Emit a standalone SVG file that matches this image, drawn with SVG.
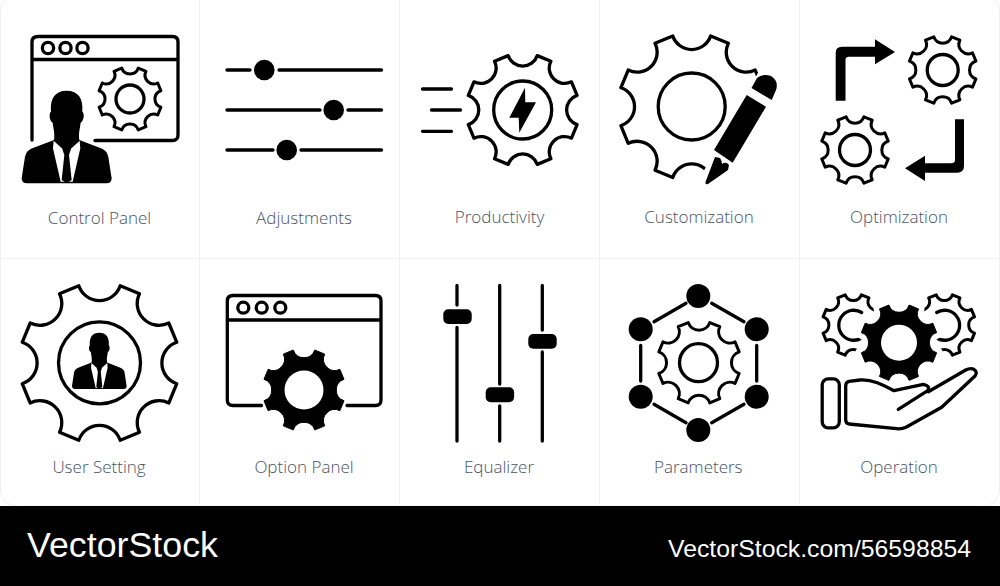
<svg xmlns="http://www.w3.org/2000/svg" xmlns:xlink="http://www.w3.org/1999/xlink" width="1000" height="586" viewBox="0 0 1000 586">
<style>
.s{fill:none;stroke:#000;stroke-width:3.3;stroke-linecap:round;stroke-linejoin:round}
#gear{vector-effect:non-scaling-stroke;stroke-linejoin:round}
.gs{fill:none;stroke:#000}
.gf{fill:#000;stroke:#000;stroke-width:1}
.f{fill:#000}
.w{fill:#fff}
.d{stroke:#efefef;stroke-width:1}
.l{font-family:"Open Sans","Liberation Sans",sans-serif;font-weight:300;font-size:17px;fill:#465266;text-anchor:middle;opacity:.99}
.b{font-family:"Liberation Sans",Arial,sans-serif;fill:#fff;opacity:.99}
</style>
<defs>
<path id="gear" d="M25.88,-96.59L50,-86.6A27.3,27.3 0 0 0 86.6,-50L96.59,-25.88A27.3,27.3 0 0 0 96.59,25.88L86.6,50A27.3,27.3 0 0 0 50,86.6L25.88,96.59A27.3,27.3 0 0 0 -25.88,96.59L-50,86.6A27.3,27.3 0 0 0 -86.6,50L-96.59,25.88A27.3,27.3 0 0 0 -96.59,-25.88L-86.6,-50A27.3,27.3 0 0 0 -50,-86.6L-25.88,-96.59A27.3,27.3 0 0 0 25.88,-96.59Z"/>
<g id="person">
<path class="f" d="M200,272C165,272 150,295 153,335C146,340 148,362 158,368C160,385 165,400 162,420L105,442Q78,450 75,470C72,490 68,515 65,535Q65,550 80,550L320,550Q335,550 335,535C332,515 328,490 325,470Q322,450 295,442L238,420C235,400 240,385 242,368C252,362 254,340 247,335C250,295 235,272 200,272Z"/>
<path class="w" d="M161,422L188,447H212L239,422L241,445L218,545H182L159,445Z"/>
<path class="f" d="M187,447H213L207,465L215,540L200,550L185,540L193,465Z"/>
</g>
</defs>
<rect width="1000" height="586" fill="#fff"/>
<g id="frame">
<rect class="d" x="0.5" y="-5" width="999" height="511" rx="16" fill="#fff"/>
<path class="d" fill="none" d="M199.5,0V506M399.5,0V506M599.5,0V506M799.5,0V506M0,258.5H1000"/>
</g>

<g id="control-panel">
<path class="s" d="M32,140V42Q32,36.500 38,36.500H172.500Q178,36.500 178,42V135Q178,140.500 172.500,140.500H95M32,59.500H178"/>
<circle class="s" cx="48" cy="48" r="5.600"/><circle class="s" cx="65.500" cy="48" r="5.600"/><circle class="s" cx="82.500" cy="48" r="5.600"/>
<use href="#gear" class="gs" stroke-width="3" transform="translate(130 99) scale(.32)"/>
<circle class="s" cx="130" cy="99" r="14"/>
<use href="#person" transform="scale(.3333)"/>
<text class="l" x="99.500" y="223.500">Control Panel</text>
</g>

<g id="adjustments">
<path class="s" d="M227,70H250M279,70H381.500M227,110H320M348,110H381.500M227,150H273M301,150H381.500"/>
<circle class="f" cx="264.300" cy="70" r="10.300"/><circle class="f" cx="333.700" cy="110" r="10.300"/><circle class="f" cx="286.700" cy="150" r="10.300"/>
<text class="l" x="304" y="223.500">Adjustments</text>
</g>

<g id="productivity">
<use href="#gear" class="gs" stroke-width="3.300" transform="translate(522.700 110) scale(.563)"/>
<circle class="s" cx="522.700" cy="110" r="29"/>
<path class="f" d="M525,87.700L509.300,117.700H518.700L519.300,132.700L536,102.300H525.300Z"/>
<path class="s" d="M422.500,89H451.500M431.500,110H460.500M422.500,131.300H451.500"/>
<text class="l" x="499.500" y="223">Productivity</text>
</g>

<g id="customization">
<use href="#gear" class="gs" stroke-width="3.300" transform="translate(691.700 106.700) scale(.733)"/>
<path class="w" d="M759,71L797,60V190H700L704,170.500Z"/>
<circle class="s" cx="691.700" cy="106.500" r="33.500"/>
<path class="f" d="M751.500,88L757,78Q763,73 771,76Q779,81 776,90L771.700,100Z"/>
<path class="f" d="M746.700,95L766,106.700L732.700,162.700L714,150Z"/>
<path class="f" d="M715,157L720,158Q722,161 722,164Q726,161 729,165L728,170L708,184Q705,185 705.500,182Z"/>
<text class="l" x="699" y="223">Customization</text>
</g>

<g id="optimization">
<use href="#gear" class="gs" stroke-width="3" transform="translate(942.700 70) scale(.344)"/>
<circle class="s" cx="942.700" cy="70" r="15.500"/>
<use href="#gear" class="gs" stroke-width="3" transform="translate(855 150) scale(.344)"/>
<circle class="s" cx="855" cy="150" r="15.500"/>
<path class="f" d="M835.700,100.700V53Q835.700,46.700 842,46.700H875V39.300L895,52L875,64.300V56.700H849Q845.500,56.700 845.500,60V100.700Z"/>
<path class="f" d="M964,119.300V166Q964,172.700 957,172.700H925V181L905,168.300L925,155.700V163.300H951Q955,163.300 955,160V119.300Z"/>
<text class="l" x="899" y="223">Optimization</text>
</g>

<g id="user-setting">
<use href="#gear" class="gs" stroke-width="3.300" transform="translate(99.500 363) scale(.8)"/>
<circle class="s" cx="99.500" cy="362.800" r="41"/>
<use href="#person" transform="translate(58.840 277.600) scale(.2024)"/>
<text class="l" x="99" y="473">User Setting</text>
</g>

<g id="option-panel">
<path class="s" d="M261.500,405.500H233Q227.300,405.500 227.300,400V301Q227.300,295.500 233,295.500H375.500Q381,295.500 381,301V400Q381,405.500 375.500,405.500H347M227.300,320H381"/>
<circle class="s" cx="243.300" cy="307.700" r="5.500"/><circle class="s" cx="261.700" cy="307.700" r="5.500"/><circle class="s" cx="280.300" cy="307.700" r="5.500"/>
<use href="#gear" class="gf" transform="translate(304 390) scale(.414)"/>
<circle class="w" cx="304" cy="390" r="19.500"/>
<text class="l" x="304" y="473">Option Panel</text>
</g>

<g id="equalizer">
<path class="s" d="M457,285.500V305M457,327.500V441M499.700,285.500V384M499.700,406V441M542.300,285.500V330M542.300,352V441"/>
<rect class="f" x="443.300" y="309.300" width="28.400" height="14.700" rx="5"/>
<rect class="f" x="485.700" y="387.300" width="28.400" height="15" rx="5"/>
<rect class="f" x="528.300" y="334" width="28.400" height="14.700" rx="5"/>
<text class="l" x="499" y="473">Equalizer</text>
</g>

<g id="parameters">
<path class="s" d="M654,321.700L686,303.300M711.700,303.300L744,321.700M640.700,345.500V381M756.700,345.500V381M654,404.300L686,422.700M711.700,422.700L744,404.300"/>
<circle class="f" cx="698.300" cy="296" r="12"/><circle class="f" cx="640.700" cy="329.300" r="12"/><circle class="f" cx="756.700" cy="329.300" r="12"/><circle class="f" cx="640.700" cy="396.700" r="12"/><circle class="f" cx="756.700" cy="396.700" r="12"/><circle class="f" cx="698.300" cy="430" r="12"/>
<use href="#gear" class="gs" stroke-width="3" transform="translate(699 362.700) scale(.416)"/>
<circle class="s" cx="698.500" cy="362.700" r="19"/>
<text class="l" x="698.300" y="473">Parameters</text>
</g>

<g id="operation">
<use href="#gear" class="gs" stroke-width="3" transform="translate(853.300 325) scale(.313)"/>
<use href="#gear" class="gs" stroke-width="3" transform="translate(944.300 325) scale(.313)"/>
<path class="s" d="M861.700,312.500A15,15 0 1 0 861.700,338M936.700,312.500A15,15 0 1 1 936.700,338"/>
<use href="#gear" fill="#fff" stroke="#fff" stroke-width="12" transform="translate(899 342.700) scale(.39)"/>
<use href="#gear" class="gf" transform="translate(899 342.700) scale(.39)"/>
<circle class="w" cx="899" cy="342.700" r="18"/>
<rect class="s" x="822.200" y="378.800" width="17.100" height="49" rx="6"/>
<path class="s" d="M898.300,409.300L927.700,390.700Q930.700,386 923.300,384.300L894,390.700C883.300,385 873.300,379.300 860,380L849,381.300Q845.700,382 845.700,386V420Q845.700,423.300 849,424L896.700,428.700Q901.700,429.300 906,427.300L941.700,407.300L975,376Q978.300,371.700 973.300,369Q970,367.700 965.700,370L928.300,391.700"/>
<text class="l" x="899" y="473">Operation</text>
</g>

<g id="footer">
<rect x="0" y="506" width="1000" height="80" fill="#000"/>
<text class="b" x="27" y="557.300" font-size="35" textLength="191" lengthAdjust="spacingAndGlyphs">VectorStock</text>
<text class="b" x="668" y="556.700" font-size="24" textLength="303" lengthAdjust="spacingAndGlyphs">VectorStock.com/56598854</text>
</g>
</svg>
